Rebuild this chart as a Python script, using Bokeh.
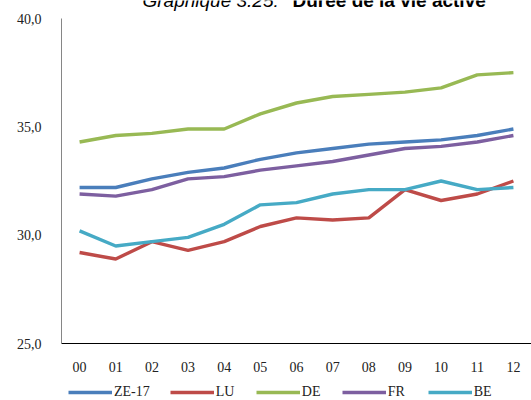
from bokeh.plotting import figure
from bokeh.layouts import column
from bokeh.models import FactorRange, Range1d, FixedTicker, Legend, LegendItem, Label
from bokeh.embed import file_html
from bokeh.resources import INLINE

years = ["00", "01", "02", "03", "04", "05", "06", "07", "08", "09", "10", "11", "12"]
ze17 = [32.2, 32.2, 32.6, 32.9, 33.1, 33.5, 33.8, 34.0, 34.2, 34.3, 34.4, 34.6, 34.9]
lu = [29.2, 28.9, 29.7, 29.3, 29.7, 30.4, 30.8, 30.7, 30.8, 32.1, 31.6, 31.9, 32.5]
de = [34.3, 34.6, 34.7, 34.9, 34.9, 35.6, 36.1, 36.4, 36.5, 36.6, 36.8, 37.4, 37.5]
fr = [31.9, 31.8, 32.1, 32.6, 32.7, 33.0, 33.2, 33.4, 33.7, 34.0, 34.1, 34.3, 34.6]
be = [30.2, 29.5, 29.7, 29.9, 30.5, 31.4, 31.5, 31.9, 32.1, 32.1, 32.5, 32.1, 32.2]
y_ticks = [25, 30, 35, 40]
y_tick_labels = ["25,0", "30,0", "35,0", "40,0"]
series_names = ["ZE-17", "LU", "DE", "FR", "BE"]
colors = ["#4a7ebb", "#be4b48", "#98b954", "#7d5fa0", "#46aac5"]
series = [ze17, lu, de, fr, be]

# frame spans up to the canvas top so the (cut-off) title can sit inside it
px_per_unit = 325 / 15.0
y_top = 40 + 18 / px_per_unit

p = figure(width=531, height=375, x_range=FactorRange(*years, range_padding=0),
           y_range=Range1d(25, y_top), output_backend="svg", toolbar_location=None,
           min_border_left=61, min_border_right=0, min_border_top=0, min_border_bottom=32)
p.outline_line_color = None
p.xgrid.visible = False
p.ygrid.visible = False
p.background_fill_color = "white"
p.border_fill_color = "white"

for ax in p.xaxis:
    ax.axis_line_color = "black"
    ax.major_tick_line_color = None
    ax.minor_tick_line_color = None
    ax.major_label_text_font = "Liberation Serif"
    ax.major_label_text_font_size = "14px"
    ax.major_label_text_color = "#222222"
    ax.major_label_standoff = 12

for ax in p.yaxis:
    ax.ticker = FixedTicker(ticks=y_ticks)
    ax.bounds = (25, 40)
    ax.major_label_overrides = {t: l for t, l in zip(y_ticks, y_tick_labels)}
    ax.axis_line_color = "#868686"
    ax.major_tick_line_color = None
    ax.minor_tick_line_color = None
    ax.major_label_text_font = "Liberation Serif"
    ax.major_label_text_font_size = "14px"
    ax.major_label_text_color = "#222222"
    ax.major_label_standoff = 14

for vals, c in zip(series, colors):
    p.line(years, vals, line_color=c, line_width=3.4)

t1 = Label(x=81, y=343, x_units="screen", y_units="screen", text="Graphique 3.25: ",
           text_font="Liberation Sans", text_font_style="italic", text_font_size="19px",
           text_baseline="alphabetic", text_color="black")
t2 = Label(x=231, y=343, x_units="screen", y_units="screen", text="Durée de la vie active",
           text_font="Liberation Sans", text_font_style="bold", text_font_size="19px",
           text_baseline="alphabetic", text_color="black")
p.add_layout(t1)
p.add_layout(t2)

# legend strip below the axis (its series lie outside its view; only the legend shows)
lg = figure(width=531, height=25, x_range=FactorRange(*years, range_padding=0),
            y_range=Range1d(0, 1), output_backend="svg", toolbar_location=None,
            min_border=0, x_axis_location=None, y_axis_location=None)
lg.outline_line_color = None
lg.xgrid.visible = False
lg.ygrid.visible = False
items = []
for name, vals, c in zip(series_names, series, colors):
    r = lg.line(years, vals, line_color=c, line_width=3.4)
    items.append(LegendItem(label=name, renderers=[r]))
legend = Legend(items=items, orientation="horizontal", location=(7, 0),
                glyph_width=44, glyph_height=14, label_standoff=2, spacing=20,
                padding=0, margin=0, border_line_color=None, background_fill_alpha=0,
                label_text_font="Liberation Serif", label_text_font_size="14px",
                label_text_color="#222222")
lg.add_layout(legend, "center")

layout = column(p, lg, spacing=0)
open("out.html", "w").write(file_html(layout, INLINE))
